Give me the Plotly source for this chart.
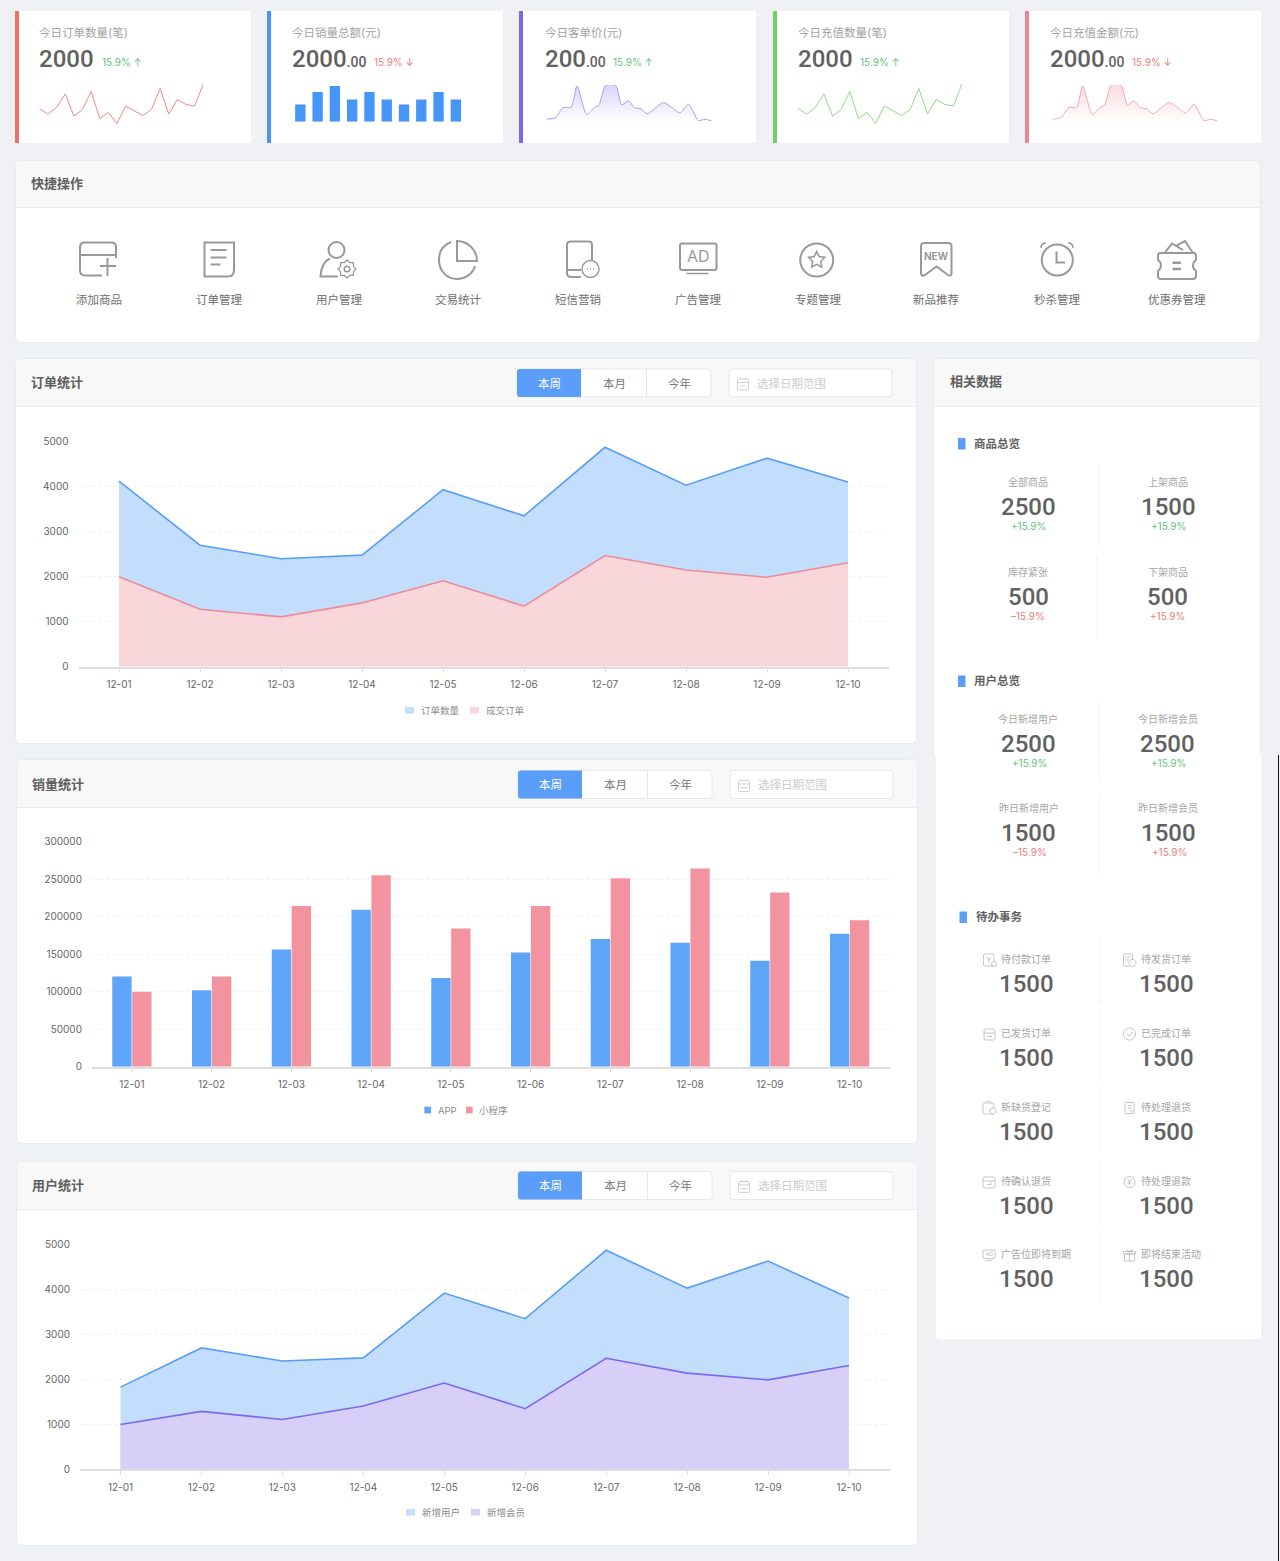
import math
import re
import plotly.graph_objects as go

W, H = 1280, 1561
FONT = "Inter, 'Noto Sans CJK SC', sans-serif"
NUM_FONT = "Roboto, 'Noto Sans CJK SC', sans-serif"

# ----------------------------------------------------------------------------
# Data
# ----------------------------------------------------------------------------

days = ["12-01", "12-02", "12-03", "12-04", "12-05", "12-06", "12-07", "12-08", "12-09", "12-10"]

order_count = [4110, 2690, 2390, 2470, 3920, 3340, 4860, 4020, 4620, 4090]
order_done = [1990, 1270, 1100, 1410, 1900, 1340, 2460, 2140, 1980, 2300]

sales_app = [120000, 102000, 156000, 209000, 118000, 152000, 170000, 165000, 141000, 177000]
sales_mini = [100000, 120000, 214000, 255000, 184000, 214000, 251000, 264000, 232000, 195000]

user_new = [1820, 2690, 2400, 2470, 3910, 3340, 4860, 4020, 4620, 3800]
user_member = [990, 1280, 1100, 1400, 1910, 1340, 2460, 2130, 1980, 2300]

spark_line = [43, 32, 45, 72, 28, 41, 77, 23, 35, 13, 48, 39, 29, 41, 83, 32, 61, 51, 48, 92]
spark_bars = [48, 83, 100, 62, 83, 62, 48, 62, 83, 62]
spark_area_x = [0, 25, 50, 73, 91, 120, 143, 157, 177, 207, 225, 245, 263, 283, 302, 350, 375, 400, 425, 455, 475, 495]
spark_area = [24, 27, 50, 50, 98, 35, 50, 56, 99, 99, 56, 65, 50, 47, 36, 61, 50, 38, 57, 21, 24, 20]

card_titles = ["今日订单数量(笔)", "今日销量总额(元)", "今日客单价(元)", "今日充值数量(笔)", "今日充值金额(元)"]
card_values = ["2000", "2000", "200", "2000", "2000"]
card_cents = ["", ".00", ".00", "", ".00"]
card_trends = ["15.9% ↑", "15.9% ↓", "15.9% ↑", "15.9% ↑", "15.9% ↓"]

quick_labels = ["添加商品", "订单管理", "用户管理", "交易统计", "短信营销", "广告管理", "专题管理", "新品推荐", "秒杀管理", "优惠券管理"]

goods_labels = ["全部商品", "上架商品", "库存紧张", "下架商品"]
goods_values = ["2500", "1500", "500", "500"]
goods_change = ["+15.9%", "+15.9%", "–15.9%", "+15.9%"]

user_labels = ["今日新增用户", "今日新增会员", "昨日新增用户", "昨日新增会员"]
user_values = ["2500", "2500", "1500", "1500"]
user_change = ["+15.9%", "+15.9%", "–15.9%", "+15.9%"]

todo_labels = ["待付款订单", "待发货订单", "已发货订单", "已完成订单", "新缺货登记",
               "待处理退货", "待确认退货", "待处理退款", "广告位即将到期", "即将结束活动"]
todo_values = ["1500"] * 10

# colours
BG = "#eff1f5"
HEAD = "#f8f8f8"
LINE = "#ebebeb"
TEXT = "#616161"
GREY = "#a6a6a6"
GREEN = "#5fc47c"
RED = "#ee7b7b"
BLUE = "#5b9ef9"

shapes = []
notes = []
layout = {}
traces = []

# ----------------------------------------------------------------------------
# Helpers, everything below is in screen pixels
# ----------------------------------------------------------------------------

def fx(x):
    return x / W


def fy(y):
    return 1 - y / H


def to_paper(d):
    return re.sub(r"(-?[\d.]+) (-?[\d.]+)",
                  lambda m: f"{fx(float(m[1])):.5f} {fy(float(m[2])):.5f}", d)


def path(d, color="#999999", width=2, fill=None):
    shapes.append(dict(type="path", xref="paper", yref="paper", layer="below",
                       path=to_paper(d), fillcolor=fill or "rgba(0,0,0,0)",
                       line=dict(color=color, width=width)))


def rect(x0, y0, x1, y1, fill, line=None, width=1):
    shapes.append(dict(type="rect", xref="paper", yref="paper", layer="below",
                       x0=fx(x0), x1=fx(x1), y0=fy(y0), y1=fy(y1), fillcolor=fill,
                       line=dict(color=line or "rgba(0,0,0,0)", width=width if line else 0)))


def round_d(x0, y0, x1, y1, r=4, top=True, bottom=True):
    rt = r if top else 0
    rb = r if bottom else 0
    return (f"M {x0 + rt} {y0} L {x1 - rt} {y0} Q {x1} {y0} {x1} {y0 + rt} "
            f"L {x1} {y1 - rb} Q {x1} {y1} {x1 - rb} {y1} "
            f"L {x0 + rb} {y1} Q {x0} {y1} {x0} {y1 - rb} "
            f"L {x0} {y0 + rt} Q {x0} {y0} {x0 + rt} {y0} Z")


def oval_d(cx, cy, rx, ry=None):
    ry = ry or rx
    k = 0.5523
    return (f"M {cx - rx} {cy} C {cx - rx} {cy - k * ry} {cx - k * rx} {cy - ry} {cx} {cy - ry} "
            f"C {cx + k * rx} {cy - ry} {cx + rx} {cy - k * ry} {cx + rx} {cy} "
            f"C {cx + rx} {cy + k * ry} {cx + k * rx} {cy + ry} {cx} {cy + ry} "
            f"C {cx - k * rx} {cy + ry} {cx - rx} {cy + k * ry} {cx - rx} {cy} Z")


def txt(x, y, s, size=12, color=TEXT, anchor="left", weight=400, family=FONT):
    notes.append(dict(x=fx(x), y=fy(y), xref="paper", yref="paper", text=s, showarrow=False,
                      xanchor=anchor, yanchor="middle", borderpad=0, borderwidth=0,
                      font=dict(family=family, size=size, color=color, weight=weight)))


def panel(x0, y0, x1, y1, head_y, title, title_x, title_y):
    path(round_d(x0 - 0.5, y0 - 0.5, x1 + 0.5, y1 + 0.5, 6), color="#e9ebf0", width=1, fill="#ffffff")
    path(round_d(x0, y0, x1, head_y, 6, bottom=False), color=HEAD, width=0, fill=HEAD)
    rect(x0, head_y, x1, head_y + 1, LINE)
    txt(title_x, title_y, title, 13, "#5f5f5f", weight=700)


def tabs(x, y):
    path(round_d(x, y, x + 194, y + 28, 3), color="#e4e7ed", width=1, fill="#ffffff")
    path(f"M {x + 3} {y} L {x + 64} {y} L {x + 64} {y + 28} L {x + 3} {y + 28} "
         f"Q {x} {y + 28} {x} {y + 25} L {x} {y + 3} Q {x} {y} {x + 3} {y} Z",
         color=BLUE, width=0, fill=BLUE)
    rect(x + 129, y, x + 130, y + 28, "#e4e7ed")
    txt(x + 32, y + 14.5, "本周", 11.5, "#ffffff", "center")
    txt(x + 97, y + 14.5, "本月", 11.5, "#777777", "center")
    txt(x + 162, y + 14.5, "今年", 11.5, "#777777", "center")
    # date range box
    bx = x + 212
    path(round_d(bx, y, bx + 163, y + 28, 3), color="#e4e7ed", width=1, fill="#ffffff")
    path(round_d(bx + 8.5, y + 10, bx + 19.5, y + 21, 1), color="#d0d0d0", width=1)
    path(f"M {bx + 8.5} {y + 13.5} L {bx + 19.5} {y + 13.5} M {bx + 11} {y + 8.5} L {bx + 11} {y + 11} "
         f"M {bx + 17} {y + 8.5} L {bx + 17} {y + 11} M {bx + 11} {y + 17} L {bx + 17} {y + 17}",
         color="#d0d0d0", width=1)
    txt(bx + 28, y + 14.5, "选择日期范围", 11.5, "#cccccc")


def legend_item(x, y, w, h, color, label, text_x):
    rect(x, y, x + w, y + h, color)
    txt(text_x, (y + y + h) / 2, label, 9.5, "#8c8c8c")


def add_axes(idx, x0, x1, y0, y1, xcfg=None, ycfg=None):
    """Place one subplot by its pixel box."""
    sfx = str(idx)
    xa = dict(domain=[fx(x0), fx(x1)], anchor="y" + sfx, visible=False, fixedrange=True)
    ya = dict(domain=[fy(y1), fy(y0)], anchor="x" + sfx, visible=False, fixedrange=True)
    xa.update(xcfg or {})
    ya.update(ycfg or {})
    layout["xaxis" + sfx] = xa
    layout["yaxis" + sfx] = ya
    return "x" + sfx, "y" + sfx


def main_axes(idx, x0, x1, y0, y1, ymax, dtick):
    return add_axes(
        idx, x0, x1, y0, y1,
        xcfg=dict(visible=True, type="category", categoryorder="array", categoryarray=days,
                  range=[-0.5, 9.5], showgrid=False, zeroline=False, showline=True,
                  linecolor="#dedede", linewidth=1.5, ticks="outside", ticklen=4, tickcolor="#dedede",
                  ticklabelstandoff=4, tickfont=dict(family=FONT, size=10, color="#666666")),
        ycfg=dict(visible=True, range=[0, ymax], dtick=dtick, tickformat="d", showgrid=True,
                  gridcolor="#ececec", griddash="2px,3px", gridwidth=1, zeroline=False, showline=False,
                  ticks="", ticklabelstandoff=9, tickfont=dict(family=FONT, size=10, color="#666666")),
    )


def area(x_ref, y_ref, y, name, line, fill):
    traces.append(go.Scatter(x=days, y=y, name=name, mode="lines", fill="tozeroy", fillcolor=fill,
                             line=dict(color=line, width=1.6), xaxis=x_ref, yaxis=y_ref,
                             showlegend=False))


# ----------------------------------------------------------------------------
# Page background and top cards
# ----------------------------------------------------------------------------

rect(0, 0, W, H, BG)

card_x0 = [15, 267, 519, 773, 1025]
card_x1 = [251, 503, 756, 1009, 1261]
card_txt = [39, 292, 545, 798, 1050]
trend_x = [102, 374, 613, 860, 1132]
stripe = ["#ea706a", "#4596f7", "#7b68ee", "#70d066", "#f0838f"]

for i in range(5):
    rect(card_x0[i], 11, card_x1[i], 143, "#ffffff")
    rect(card_x0[i], 11, card_x0[i] + 4, 143, stripe[i])
    txt(card_txt[i], 33, card_titles[i], 11.5, "#a3a3a3")
    cents = f'<span style="font-size:14px">{card_cents[i]}</span>' if card_cents[i] else ""
    txt(card_txt[i], 59, card_values[i] + cents, 24, TEXT, weight=500, family=NUM_FONT)
    up = card_trends[i].endswith("↑")
    txt(trend_x[i], 62.5, card_trends[i], 10, GREEN if up else RED)

# sparklines
spark_idx = list(range(len(spark_line)))
for idx, x0, color in [(1, 39.3, "#ee8a86"), (4, 798, "#8fdc86")]:
    xr, yr = add_axes(idx, x0, x0 + 164, 80, 130, dict(range=[0, 19]), dict(range=[0, 100]))
    traces.append(go.Scatter(x=spark_idx, y=spark_line, mode="lines", showlegend=False,
                             line=dict(color=color, width=1), xaxis=xr, yaxis=yr))

xr, yr = add_axes(2, 291.7, 464.5, 86, 121.7, dict(range=[-0.5, 9.5]), dict(range=[0, 100]))
traces.append(go.Bar(x=list(range(10)), y=spark_bars, width=0.6, marker=dict(color="#4596f7", line=dict(width=0)),
                     showlegend=False, xaxis=xr, yaxis=yr))

for idx, x0, line, rgb in [(3, 546.7, "#a99cf6", "123,104,238"), (5, 1052.3, "#f5a6ae", "240,131,143")]:
    xr, yr = add_axes(idx, x0, x0 + 165, 85, 130, dict(range=[0, 495]), dict(range=[0, 100]))
    traces.append(go.Scatter(
        x=spark_area_x, y=spark_area, mode="lines", showlegend=False, fill="tozeroy",
        line=dict(color=line, width=1, shape="spline", smoothing=0.7),
        fillgradient=dict(type="vertical", start=18, stop=100,
                          colorscale=[[0, f"rgba({rgb},0.0)"], [1, f"rgba({rgb},0.28)"]]),
        xaxis=xr, yaxis=yr))

# ----------------------------------------------------------------------------
# Quick actions
# ----------------------------------------------------------------------------

panel(16, 161, 1260, 342, 207, "快捷操作", 31, 183)
quick_x = [99, 219, 339, 458, 578, 698, 818, 936, 1057, 1177]
for x, label in zip(quick_x, quick_labels):
    txt(x, 300, label, 11.5, "#6e6e6e", "center")

path("M 116 258 L 116 247 Q 116 242.5 111 242.5 L 85 242.5 Q 80 242.5 80 247 L 80 270 Q 80 275.5 85 275.5 L 102 275.5 "
     "M 80 255 L 116 255 M 100 266 L 116 266 M 107.5 258 L 107.5 276")
path("M 204.5 242.5 L 234 242.5 L 234 270 Q 234 276.5 228 276.5 L 204.5 276.5 Z "
     "M 210.5 250 L 226.5 250 M 210.5 257.5 L 226.5 257.5 M 210.5 264.5 L 220.5 264.5")
path(oval_d(336.5, 250, 8))
path("M 330 258.5 C 324 261 321 268 320.5 276.5 L 338 276.5")
gear = []
for k in range(16):
    r = 9 if k % 2 == 0 else 7
    a = math.pi * k / 8
    gear.append(f"{'M' if k == 0 else 'L'} {347 + r * math.cos(a):.2f} {269 + r * math.sin(a):.2f}")
path(" ".join(gear) + " Z", width=1.3)
path(oval_d(347, 269, 2.8), width=1.5)
path("M 457 241 C 468 241 477 250 477 261 L 457 261 Z")
path("M 451 242 C 443 245 439 252 439 260 C 439 271 447 279 457 279 C 466 279 473 273 475 266")
path("M 592 260 L 592 245 Q 592 241.5 588 241.5 L 571 241.5 Q 567 241.5 567 245 L 567 273 Q 567 277 571 277 L 581 277 "
     "M 567 270 L 581 270")
path(oval_d(590.5, 269, 8.5), width=1.5)
path("M 587 269 L 588 269 M 590 269 L 591 269 M 593 269 L 594 269", width=1.5)
path(round_d(680, 243.5, 716.5, 270, 2))
path("M 686.5 273.5 L 708.5 273.5", width=1.5)
txt(698, 256.5, "AD", 16, "#999999", "center")
path(oval_d(816.7, 260, 16.5))
path("M 816.7 251.5 L 819.2 256.6 L 824.8 257.4 L 820.8 261.4 L 821.7 267 L 816.7 264.3 L 811.7 267 "
     "L 812.6 261.4 L 808.6 257.4 L 814.2 256.6 Z", width=1.5)
path("M 925 243 L 948 243 Q 951.5 243 951.5 246 L 951.5 273 Q 951.5 277 948 275 L 936.5 266.5 L 925 275 "
     "Q 921 277 921 273 L 921 246 Q 921 243 925 243 Z")
txt(936.3, 255.5, "NEW", 10, "#999999", "center", 700)
path(oval_d(1057.3, 260, 15.5))
path("M 1056.5 251.5 L 1056.5 262.5 L 1065 262.5")
path("M 1041 248 C 1041 245 1043 243 1046 243 M 1073 248 C 1073 245 1071 243 1068 243", width=1.5)
path("M 1160 253 L 1194 253 Q 1196 253 1196 256 L 1196 260 Q 1193 262 1193 265.5 Q 1193 269 1196 271 L 1196 276 "
     "Q 1196 279 1193 279 L 1161 279 Q 1158 279 1158 276 L 1158 271 Q 1161 269 1161 265.5 Q 1161 262 1158 260 "
     "L 1158 256 Q 1158 253 1160 253 Z "
     "M 1164.5 253 L 1172 243.5 L 1183 250 M 1176 246 L 1185 241 L 1193 253")
path("M 1172.5 262.7 L 1181 262.7 M 1172.5 269 L 1181 269", width=2.5)

# ----------------------------------------------------------------------------
# Chart panels
# ----------------------------------------------------------------------------

panel(16, 359, 916, 743, 406, "订单统计", 31, 382)
tabs(517, 369)
xr, yr = main_axes(10, 78.5, 888.5, 441, 666.5, 5000, 1000)
area(xr, yr, order_count, "订单数量", "#579ff6", "#c3ddfc")
area(xr, yr, order_done, "成交订单", "#ef8b97", "#f9d6da")
legend_item(405, 707, 9, 6.5, "#c3ddfc", "订单数量", 421)
legend_item(470, 707, 9, 6.5, "#f9d6da", "成交订单", 485.5)

panel(17, 760, 917, 1143, 807, "销量统计", 32, 784)
tabs(518, 770.5)
xr, yr = main_axes(11, 92, 889.5, 841.5, 1066.7, 300000, 50000)
traces.append(go.Bar(x=days, y=sales_app, name="APP", marker=dict(color="#5ea5f8", line=dict(width=0)),
                     xaxis=xr, yaxis=yr, showlegend=False))
traces.append(go.Bar(x=days, y=sales_mini, name="小程序", marker=dict(color="#f2939f", line=dict(width=0)),
                     xaxis=xr, yaxis=yr, showlegend=False))
legend_item(424.3, 1106.7, 6.7, 6.7, "#5ea5f8", "APP", 437.5)
legend_item(466, 1106.7, 6.7, 6.7, "#f2939f", "小程序", 479)

panel(17, 1162, 917, 1545, 1209, "用户统计", 32, 1184.5)
tabs(518, 1171.5)
xr, yr = main_axes(12, 80, 889.5, 1244, 1469, 5000, 1000)
area(xr, yr, user_new, "新增用户", "#579ff6", "#c3ddfc")
area(xr, yr, user_member, "新增会员", "#7b68f0", "#d7cff8")
legend_item(406, 1509, 9, 6.5, "#c3ddfc", "新增用户", 422.3)
legend_item(471, 1509, 9, 6.5, "#d7cff8", "新增会员", 487)

# ----------------------------------------------------------------------------
# Right hand panel, the reference is stitched from two shots at y=755
# ----------------------------------------------------------------------------

panel(934, 359, 1260, 760, 406, "相关数据", 950, 381)
path("M 935 754.5 L 935 1334 Q 935 1340 941 1340 L 1256 1340 Q 1262 1340 1262 1334 L 1262 754.5",
     color="#e9ebf0", width=1, fill="#ffffff")
rect(1278, 755, 1279, 1561, "#111111")


def section(x, y, label):
    rect(x, y - 5.5, x + 7.5, y + 6, "#5b9ef9")
    txt(x + 16, y, label, 11.5, "#616161", weight=700)


section(958, 443.5, "商品总览")
section(958, 681, "用户总览")
section(959.5, 917, "待办事务")

for x, y0, y1 in [(1098, 464, 546), (1096.5, 555, 636), (1098, 701, 755), (1099, 755, 783), (1099, 793, 873)]:
    rect(x, y0, x + 1, y1, "#f2f2f2")
for y0, y1 in [(939, 1004), (1013, 1078), (1087, 1152), (1160, 1225), (1234, 1299)]:
    rect(1099.5, y0, 1100.5, y1, "#f2f2f2")

goods_pos = [(1028, 482, 506, 526), (1168, 482, 506, 526), (1028, 572, 596, 616), (1167.5, 572, 596, 616)]
goods_up = [True, True, False, False]
for (x, y0, y1, y2), a, b, c, up in zip(goods_pos, goods_labels, goods_values, goods_change, goods_up):
    txt(x, y0, a, 10, GREY, "center")
    txt(x, y1 + 0.5, b, 24, TEXT, "center", 500, NUM_FONT)
    txt(x, y2, c, 10, GREEN if up else RED, "center")

user_pos = [(1028, 719, 743, 763), (1167.5, 719, 743, 763), (1028.5, 808, 832, 852), (1168, 808, 832, 852)]
for (x, y0, y1, y2), a, b, c in zip(user_pos, user_labels, user_values, user_change):
    txt(x, y0, a, 10, GREY, "center")
    txt(x, y1 + 0.5, b, 24, TEXT, "center", 500, NUM_FONT)
    txt(x + 1, y2, c, 10, RED if y0 == 808 else GREEN, "center")

todo_rows = [(959, 983), (1033, 1057), (1107, 1131), (1181, 1205), (1254, 1278)]
for i, (label, value) in enumerate(zip(todo_labels, todo_values)):
    y0, y1 = todo_rows[i // 2]
    x = 1000.5 if i % 2 == 0 else 1140.5
    txt(x, y0, label, 10, GREY)
    txt(x - 2, y1 + 0.5, value, 24, TEXT, weight=500, family=NUM_FONT)

# little outline icons of the todo list
IC = "#b8b8b8"
for i in range(10):
    y = todo_rows[i // 2][0] + 1
    x = 989 if i % 2 == 0 else 1129.5
    if i == 0:
        path(round_d(x - 5.5, y - 6, x + 5, y + 6, 1), IC, 0.8)
        path(f"M {x - 2.5} {y - 3} L {x} {y} L {x + 2} {y - 3} M {x} {y} L {x} {y + 3}", IC, 0.8)
        path(oval_d(x + 5, y + 4, 2.5), IC, 0.8, "#ffffff")
    elif i == 1:
        path(round_d(x - 6, y - 6, x + 3, y + 6, 1), IC, 0.8)
        path(f"M {x - 4} {y - 3} L {x + 1} {y - 3} M {x - 4} {y} L {x} {y}", IC, 0.8)
        path(oval_d(x + 3, y + 3, 3.5), IC, 0.8, "#ffffff")
    elif i == 2:
        path(round_d(x - 5, y - 5, x + 6, y + 6, 2), IC, 0.8)
        path(f"M {x - 5} {y - 1} L {x + 6} {y - 1} M {x - 2} {y + 2.5} L {x + 3} {y + 2.5}", IC, 0.8)
    elif i == 3:
        path(oval_d(x, y, 6), IC, 0.8)
        path(f"M {x - 2.5} {y} L {x - 0.5} {y + 2} L {x + 3} {y - 2}", IC, 0.8)
    elif i == 4:
        path(round_d(x - 6, y - 5, x + 5, y + 6, 2), IC, 0.8)
        path(f"M {x - 3} {y - 5} C {x - 3} {y - 8} {x + 2} {y - 8} {x + 2} {y - 5}", IC, 0.8)
        path(oval_d(x + 4, y + 3, 3), IC, 0.8, "#ffffff")
    elif i == 5:
        path(round_d(x - 4.5, y - 5.5, x + 4.5, y + 5.5, 1), IC, 0.8)
        path(f"M {x - 2} {y - 2.5} L {x + 2} {y - 2.5} M {x - 2} {y} L {x + 2} {y} M {x} {y + 3} L {x + 4} {y + 3}", IC, 0.8)
    elif i == 6:
        path(round_d(x - 6, y - 5, x + 6, y + 6, 2), IC, 0.8)
        path(f"M {x - 6} {y - 1} L {x + 6} {y - 1} M {x - 2} {y + 2.5} L {x + 2} {y + 2.5} L {x + 2} {y}", IC, 0.8)
    elif i == 7:
        path(oval_d(x, y, 5.5), IC, 0.8)
        path(f"M {x - 2} {y - 3} L {x} {y} L {x + 2} {y - 3} M {x} {y} L {x} {y + 3} M {x - 2} {y + 1} L {x + 2} {y + 1}", IC, 0.8)
    elif i == 8:
        path(round_d(x - 6, y - 5, x + 6, y + 3.5, 1), IC, 0.8)
        path(f"M {x - 3.5} {y + 5.5} L {x + 3.5} {y + 5.5}", IC, 0.8)
        txt(x, y - 1, "AD", 5, IC, "center")
    else:
        path(f"M {x - 5} {y - 1} L {x + 5} {y - 1} L {x + 5} {y + 6} L {x - 5} {y + 6} Z "
             f"M {x - 6} {y - 3.5} L {x + 6} {y - 3.5} L {x + 6} {y - 1} L {x - 6} {y - 1} Z M {x} {y - 3.5} L {x} {y + 6}", IC, 0.8)
        path(f"M {x} {y - 3.5} C {x - 4} {y - 7} {x - 4} {y - 3.5} {x} {y - 3.5} "
             f"C {x + 4} {y - 7} {x + 4} {y - 3.5} {x} {y - 3.5}", IC, 0.8)

# ----------------------------------------------------------------------------
# Figure
# ----------------------------------------------------------------------------

fig = go.Figure(data=traces)
fig.update_layout(
    width=W, height=H, margin=dict(l=0, r=0, t=0, b=0, autoexpand=False),
    paper_bgcolor=BG, plot_bgcolor="rgba(0,0,0,0)", showlegend=False,
    barmode="group", bargap=0.5, bargroupgap=0.03,
    font=dict(family=FONT), shapes=shapes, annotations=notes,
    **layout,
)

fig.write_html("out.html", config={"displayModeBar": False}, post_script="document.body.style.margin='0';")
